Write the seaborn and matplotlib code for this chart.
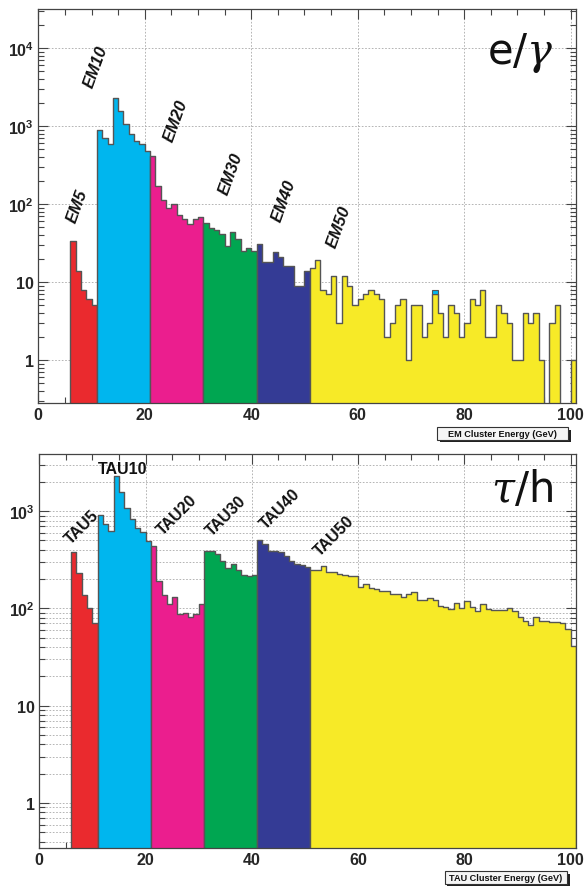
import numpy as np
import pandas as pd
import matplotlib
matplotlib.use("Agg")
import matplotlib.pyplot as plt
from matplotlib.ticker import FixedLocator, FixedFormatter, MultipleLocator, LogLocator, NullFormatter
from matplotlib.patches import Rectangle
import seaborn as sns

# ---------------- data (1-GeV bins, counts per bin) ----------------
em_labels = ["EM5", "EM10", "EM20", "EM30", "EM40", "EM50"]
em_first_bin = [6, 11, 21, 31, 41, 51]
em5_counts = [34, 14, 8, 6, 5]
em10_counts = [879, 701, 587, 2286, 1542, 1050, 781, 648, 587, 477]
em20_counts = [408, 170, 111, 89, 100, 73, 64, 55, 65, 69]
em30_counts = [57, 49, 47, 41, 29, 44, 36, 25, 27, 25]
em40_counts = [31, 18, 18, 24, 21, 16, 16, 9, 9, 14]
em50_counts = [15, 19, 8, 7, 12, 3, 12, 9, 5, 6, 7, 8, 7, 6, 2, 3, 5, 6, 1, 5,
               5, 2, 3, 7, 4, 2, 5, 4, 2, 3, 6, 5, 8, 2, 2, 5, 4, 3, 1, 1,
               4, 3, 4, 1, 0, 3, 5, 0, 0, 1]
em10_extra_bin = [74]      # one EM10 entry stacked on top of EM50
em10_extra_count = [1]

tau_labels = ["TAU5", "TAU10", "TAU20", "TAU30", "TAU40", "TAU50"]
tau_first_bin = [6, 11, 21, 31, 41, 51]
tau5_counts = [377, 231, 137, 100, 70]
tau10_counts = [918, 737, 629, 2278, 1560, 1069, 830, 665, 615, 497]
tau20_counts = [435, 190, 137, 111, 130, 88, 89, 81, 88, 111]
tau30_counts = [390, 385, 362, 308, 258, 285, 248, 218, 214, 220]
tau40_counts = [499, 462, 392, 391, 380, 345, 307, 286, 279, 266]
tau50_counts = [248, 248, 271, 239, 239, 227, 220, 215, 215, 166,
                179, 163, 158, 151, 151, 142, 142, 130, 142, 146,
                121, 121, 127, 121, 105, 103, 99, 113, 101, 118,
                103, 93, 112, 99, 97, 97, 96, 100, 93, 82,
                75, 68, 81, 74, 75, 73, 73, 70, 61, 41]

x_ticks = [0, 20, 40, 60, 80, 100]
x_ticklabels = ["0", "20", "40", "60", "80", "100"]
em_yticks = [1, 10, 100, 1000, 10000]
em_yticklabels = ["1", "10", r"$\mathbf{10^{2}}$", r"$\mathbf{10^{3}}$", r"$\mathbf{10^{4}}$"]
tau_yticks = [1, 10, 100, 1000]
tau_yticklabels = ["1", "10", r"$\mathbf{10^{2}}$", r"$\mathbf{10^{3}}$"]

seg_colors = ["#EA2A2E", "#00B6EE", "#EB1E8E", "#00A651", "#343B95", "#F7EA27"]

# label anchor positions (data coordinates)
em_label_pos = [(7.3, 97), (10.85, 5860), (25.9, 1194), (36.2, 250), (46.1, 112), (56.5, 52)]
tau_label_pos = [(8.0, 703), (15.75, 2773), (25.9, 934), (35.1, 912), (45.3, 1076), (55.5, 568)]
tau_label_rot = [45, 0, 45, 45, 45, 45]

# ---------------- style ----------------
sns.set_style("ticks")
plt.rcParams["font.family"] = ["Liberation Sans", "DejaVu Sans"]
plt.rcParams["mathtext.fontset"] = "custom"
plt.rcParams["mathtext.bf"] = "Liberation Sans:bold"
plt.rcParams["mathtext.rm"] = "Liberation Sans"
plt.rcParams["mathtext.it"] = "DejaVu Serif:italic"

W, H = 585, 887
fig = plt.figure(figsize=(W / 100, H / 100), dpi=100)
fig.patch.set_facecolor("white")


def frac_axes(l, r, t, b):
    return fig.add_axes([l / W, 1 - b / H, (r - l) / W, (b - t) / H])


ax1 = frac_axes(38.3, 576, 10, 404)
ax2 = frac_axes(39.3, 576, 455, 849)

line_col = "#555555"


def draw_segments(ax, first_bins, seg_counts):
    for s, counts, c in zip(first_bins, seg_counts, seg_colors):
        counts = [float(v) for v in counts]
        edges = [float(e) for e in range(s, s + len(counts) + 1)]
        df = pd.DataFrame({"energy": [e + 0.5 for e in edges[:-1]], "n": counts})
        sns.histplot(data=df, x="energy", weights="n", bins=edges, element="step",
                     fill=True, facecolor=c, edgecolor=line_col, linewidth=1.0,
                     alpha=1, ax=ax, zorder=2)


for ax in (ax1, ax2):
    ax.set_yscale("log")

draw_segments(ax1, em_first_bin,
              [em5_counts, em10_counts, em20_counts, em30_counts, em40_counts, em50_counts])
# extra EM10 entry stacked above EM50
for b, n in zip(em10_extra_bin, em10_extra_count):
    ax1.bar(b + 0.5, n, bottom=em50_counts[b - em_first_bin[5]], width=1.0,
            color=seg_colors[1], edgecolor=line_col, linewidth=0.8, zorder=3)

draw_segments(ax2, tau_first_bin,
              [tau5_counts, tau10_counts, tau20_counts, tau30_counts, tau40_counts, tau50_counts])

grid_kw = dict(color="#a8a8a8", linestyle=(0, (2, 2)), linewidth=0.6)

for ax, yt, ytl, ylim in ((ax1, em_yticks, em_yticklabels, (0.281, 31623)),
                          (ax2, tau_yticks, tau_yticklabels, (0.345, 3863))):
    ax.set_xlim(0, 101)
    ax.set_ylim(*ylim)
    ax.set_xlabel("")
    ax.set_ylabel("")
    ax.xaxis.set_major_locator(FixedLocator(x_ticks))
    ax.xaxis.set_major_formatter(FixedFormatter(x_ticklabels))
    ax.xaxis.set_minor_locator(MultipleLocator(5))
    ax.yaxis.set_major_locator(FixedLocator(yt))
    ax.yaxis.set_major_formatter(FixedFormatter(ytl))
    ax.yaxis.set_minor_locator(LogLocator(base=10, subs=np.arange(2, 10)))
    ax.yaxis.set_minor_formatter(NullFormatter())
    ax.tick_params(which="both", direction="in", top=True, right=True,
                   color="#444444", width=0.8)
    ax.tick_params(which="major", length=7, labelsize=11.5, pad=3)
    ax.tick_params(which="minor", length=4)
    for lab in ax.get_xticklabels() + ax.get_yticklabels():
        lab.set_fontweight("bold")
    for sp in ax.spines.values():
        sp.set_color("#444444")
        sp.set_linewidth(0.9)
    ax.set_axisbelow(True)
    ax.xaxis.grid(True, which="major", **grid_kw)
    ax.set_facecolor("white")

ax1.yaxis.grid(True, which="major", **grid_kw)
ax2.yaxis.grid(True, which="both", **grid_kw)

# trigger labels
for (x, y), t in zip(em_label_pos, em_labels):
    ax1.text(x, y, t, rotation=70, ha="center", va="center", fontsize=12,
             fontweight="bold", fontstyle="italic", color="#111111", zorder=5)
for (x, y), t, r in zip(tau_label_pos, tau_labels, tau_label_rot):
    ax2.text(x, y, t, rotation=r, ha="center", va="center", fontsize=11.5,
             fontweight="bold", color="#111111", zorder=5)

# particle type labels
ax1.text(0.896, 0.891, r"e/$\gamma$", transform=ax1.transAxes, fontsize=30,
         ha="center", va="center", family="DejaVu Sans", color="#111111")
ax2.text(0.899, 0.911, r"$\tau$/h", transform=ax2.transAxes, fontsize=30,
         ha="center", va="center", family="DejaVu Sans", color="#111111")


# axis title boxes (ROOT-like pave with shadow)
def title_box(text, x0, x1, y0, y1):
    sh = 2.5
    fig.patches.append(Rectangle((x0 / W + sh / W, 1 - (y1 + sh) / H), (x1 - x0) / W, (y1 - y0) / H,
                                 transform=fig.transFigure, facecolor="#222222",
                                 edgecolor="none", zorder=1))
    fig.patches.append(Rectangle((x0 / W, 1 - y1 / H), (x1 - x0) / W, (y1 - y0) / H,
                                 transform=fig.transFigure, facecolor="#f5f5f5",
                                 edgecolor="#333333", linewidth=0.8, zorder=2))
    fig.text((x0 + x1) / 2 / W, 1 - (y0 + y1) / 2 / H, text, ha="center", va="center",
             fontsize=6.6, fontweight="bold", color="#111111", zorder=3)


title_box("EM Cluster Energy (GeV)", 437, 568, 428, 440.5)
title_box("TAU Cluster Energy (GeV)", 445, 567, 872, 885)

fig.savefig("out.png", dpi=100, facecolor="white")
